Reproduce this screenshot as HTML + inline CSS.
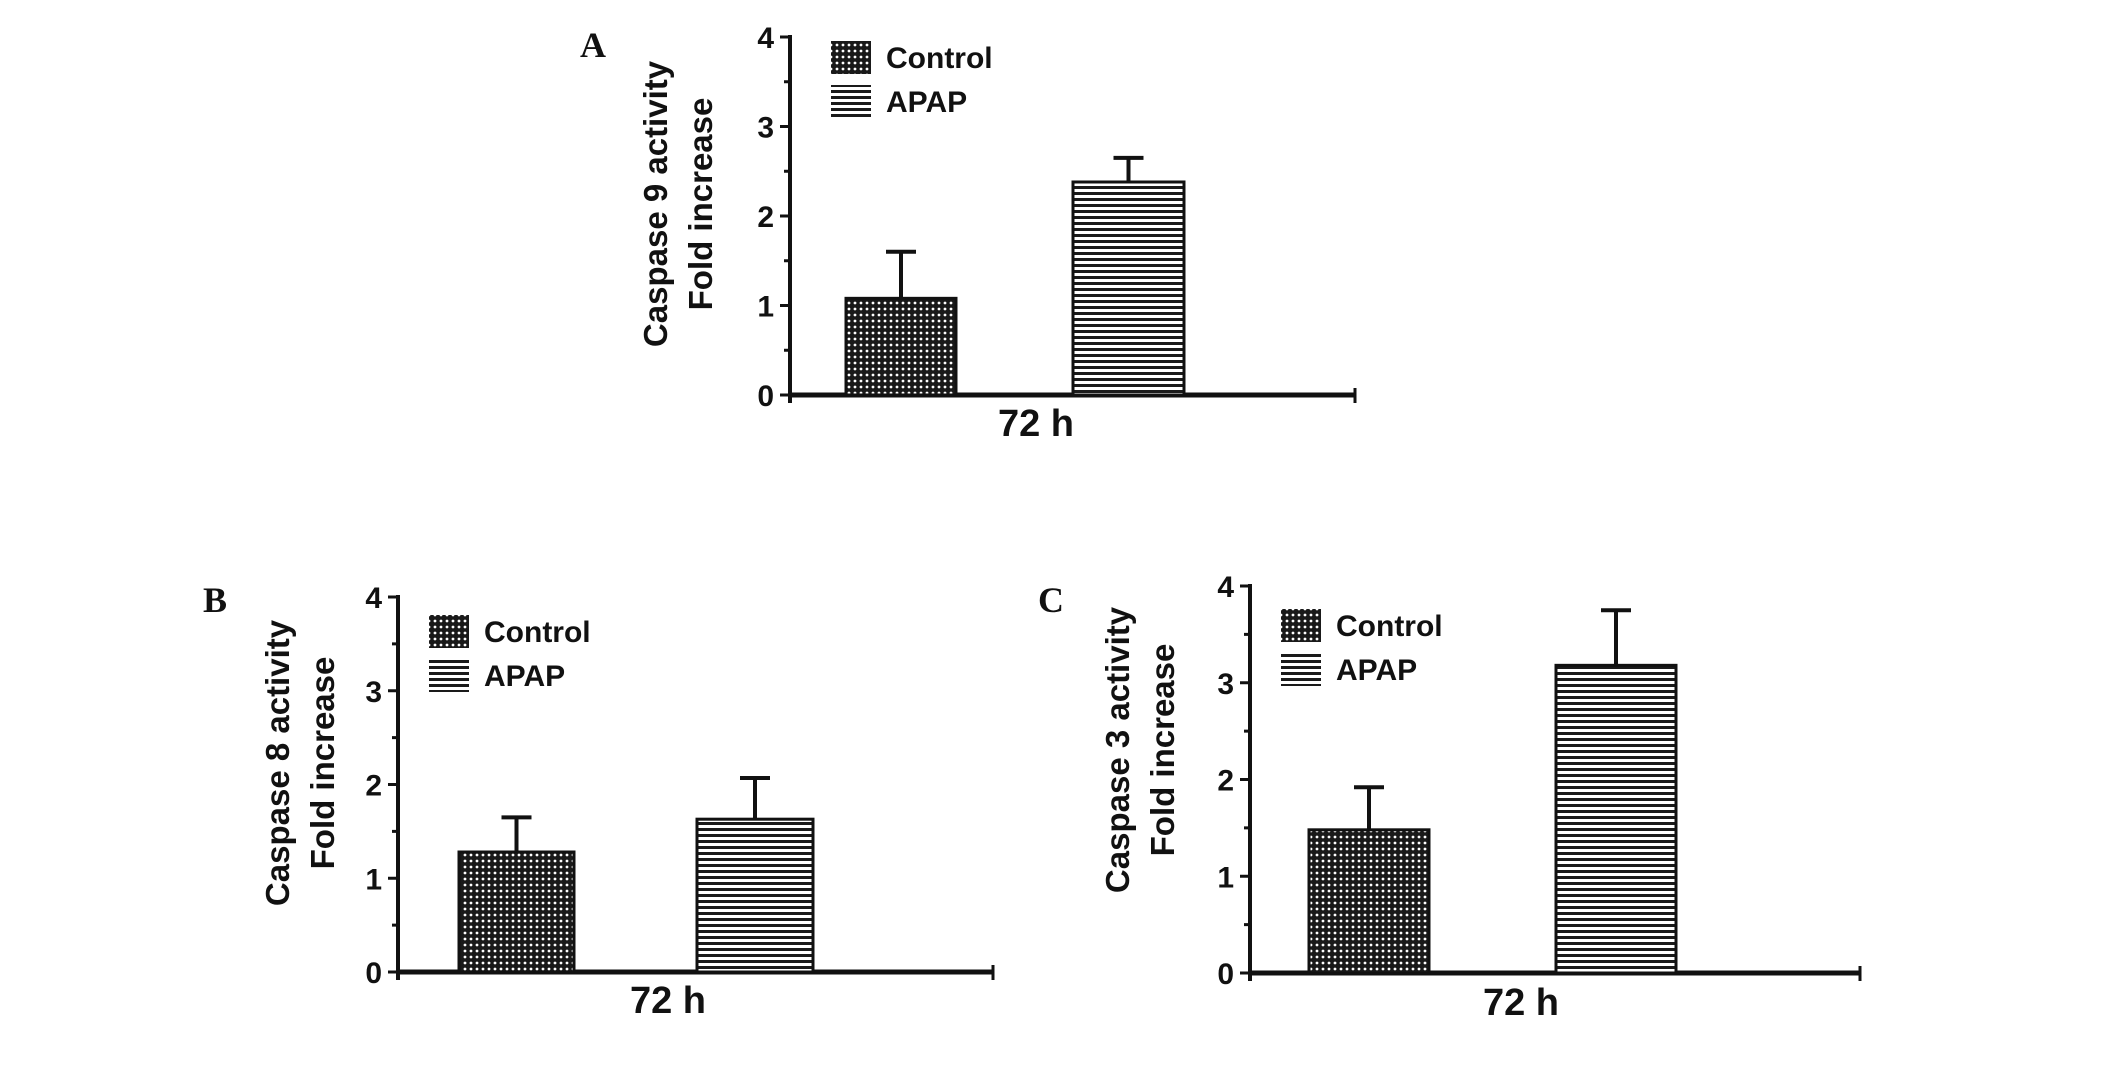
<!DOCTYPE html>
<html><head><meta charset="utf-8"><style>
html,body{margin:0;padding:0;background:#fff}
svg{display:block}
text{font-family:"Liberation Sans",Arial,sans-serif;font-weight:bold;fill:#111}
text.pl{font-family:"Liberation Serif","Times New Roman",serif}
</style></head><body>
<svg id="fig" width="2126" height="1068" viewBox="0 0 2126 1068" xmlns="http://www.w3.org/2000/svg">
<defs>
<pattern id="dots" width="6" height="6" patternUnits="userSpaceOnUse"><rect width="6" height="6" fill="#1a1a1a"/><circle cx="3" cy="3" r="1.4" fill="#fff"/></pattern>
<pattern id="stripes" width="6" height="6" patternUnits="userSpaceOnUse"><rect width="6" height="6" fill="#fff"/><rect width="6" height="3" fill="#1a1a1a"/></pattern>
</defs>
</svg>
<script>
const panelLabels = ["A","B","C"];
const yTitles = ["Caspase 9 activity","Caspase 8 activity","Caspase 3 activity"];
const categories = ["Control","APAP"];
const controlValues = [1.08, 1.28, 1.48];
const controlErrors = [0.52, 0.37, 0.44];
const apapValues = [2.38, 1.63, 3.18];
const apapErrors = [0.27, 0.44, 0.57];
const yTicks = [0,1,2,3,4];
const xLabel = "72 h";

const layouts = [
 {ax:790,y0:395,y4:37,xe:1355,b:[[846,956],[1073,1184]],pl:[580,45],yl:[655,700],ylc:204,lg:[831,41],xl:[1036,436]},
 {ax:398,y0:972,y4:597,xe:993,b:[[459,574],[697,813]],pl:[203,600],yl:[277,322],ylc:763,lg:[429,615],xl:[668,1013]},
 {ax:1250,y0:973,y4:586,xe:1860,b:[[1309,1429],[1556,1676]],pl:[1038,600],yl:[1117,1162],ylc:750,lg:[1281,609],xl:[1521,1015]}
];
const svg=document.getElementById('fig');
const NS="http://www.w3.org/2000/svg";
function mk(tag,attrs,parent){const e=document.createElementNS(NS,tag);for(const k in attrs)e.setAttribute(k,attrs[k]);(parent||svg).appendChild(e);return e;}
layouts.forEach((L,i)=>{
 const g=mk('g',{});
 
 
 const y=v=>L.y0-(L.y0-L.y4)*v/4;
 const pl=mk('text',{x:L.pl[0],y:L.pl[1]+12,'font-size':36,'class':'pl'},g);pl.textContent=panelLabels[i];
 
 
 const ya=mk('line',{x1:L.ax,y1:L.y4-2,x2:L.ax,y2:L.y0+8,stroke:'#111','stroke-width':4},g);
 
 
 for(let k=0;k<=8;k++){const v=k/2;mk('line',{x1:L.ax-(k%2?6:10),y1:y(v),x2:L.ax,y2:y(v),stroke:'#111','stroke-width':3},g);}
 yTicks.forEach(t=>{const tx=mk('text',{x:L.ax-16,y:y(t)+11,'font-size':30,'text-anchor':'end'},g);tx.textContent=t;
  
  });
 const xa=mk('line',{x1:L.ax,y1:L.y0,x2:L.xe,y2:L.y0,stroke:'#111','stroke-width':5},g);
 
 
 mk('line',{x1:L.xe,y1:L.y0-7,x2:L.xe,y2:L.y0+8,stroke:'#111','stroke-width':3},g);
 const xt=mk('text',{x:L.xl[0],y:L.xl[1],'font-size':38,'text-anchor':'middle'},g);xt.textContent=xLabel;
 
 
 const lines=[yTitles[i],"Fold increase"];
 lines.forEach((s,j)=>{const t=mk('text',{x:0,y:0,'font-size':33,'text-anchor':'middle',transform:`translate(${L.yl[j]+12},${L.ylc}) rotate(-90)`},g);t.textContent=s;
  
  });
 const vals=[controlValues[i],apapValues[i]],errs=[controlErrors[i],apapErrors[i]],fills=['url(#dots)','url(#stripes)'];
 vals.forEach((v,j)=>{const [x1,x2]=L.b[j];const cx=(x1+x2)/2;const top=y(v+errs[j]);
  const el=mk('line',{x1:cx,y1:y(v),x2:cx,y2:top,stroke:'#111','stroke-width':4},g);
  
  
  mk('line',{x1:cx-15,y1:top,x2:cx+15,y2:top,stroke:'#111','stroke-width':4},g);
  const r=mk('rect',{x:x1,y:y(v),width:x2-x1,height:L.y0-y(v),fill:fills[j],stroke:'#111','stroke-width':3},g);
  
  });
 categories.forEach((c,j)=>{const ly=L.lg[1]+j*44;
  const sw=mk('rect',{x:L.lg[0],y:ly,width:40,height:33,fill:fills[j]},g);
  
  
  const t=mk('text',{x:L.lg[0]+55,y:ly+27,'font-size':30},g);t.textContent=c;
  
  });
});
</script>
</body></html>
